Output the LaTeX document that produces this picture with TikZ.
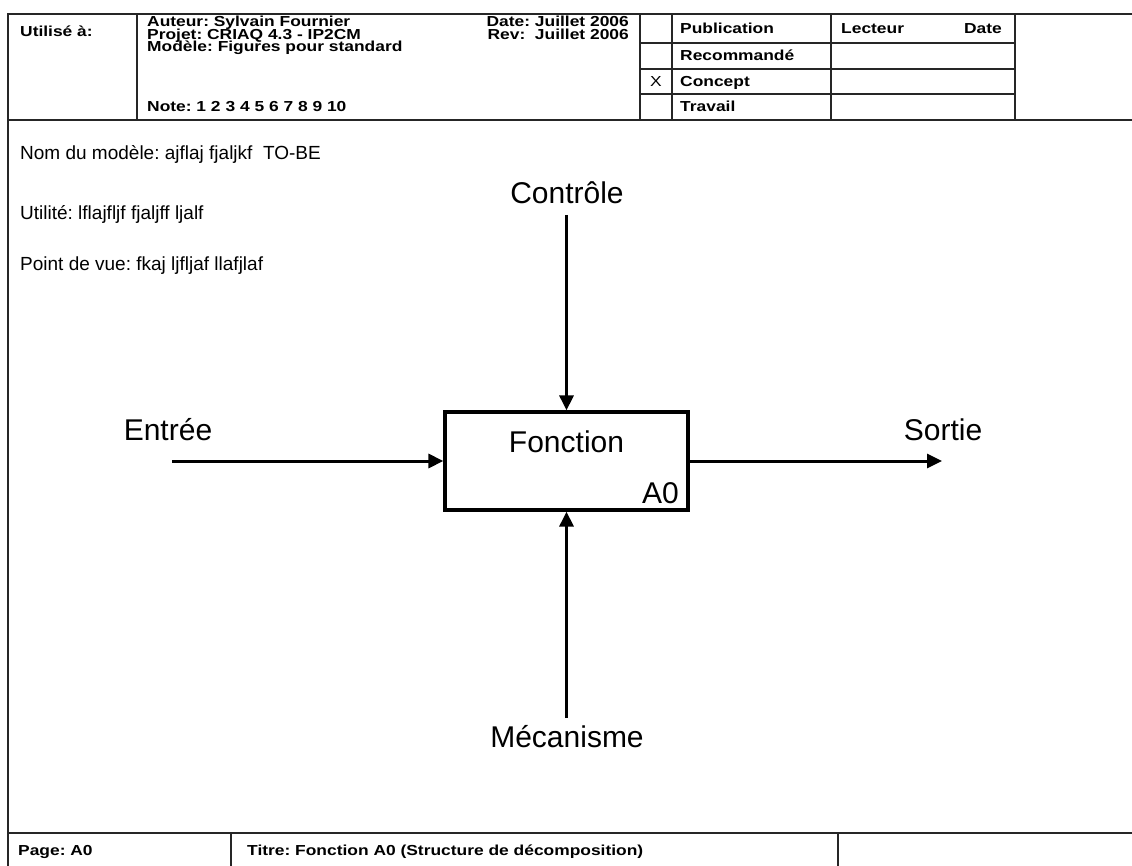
\documentclass[tikz,border=0pt]{standalone}
\usepackage{fontspec}
\setmainfont{Liberation Sans}
\newfontfamily\hdrfont{Liberation Sans}[FakeStretch=1.2]
\usetikzlibrary{arrows.meta}
\frenchspacing
\begin{document}
\begin{tikzpicture}[x=1pt,y=-1pt,
  rule/.style={line width=1.5pt, draw=black!85},
  hdr/.style={font=\hdrfont\fontsize{14.5}{15}\selectfont\bfseries, inner sep=0pt, anchor=base west},
  hdrr/.style={hdr, anchor=base east},
  info/.style={font=\fontsize{19}{22}\selectfont, inner sep=0pt, anchor=base west},
  lbl/.style={font=\fontsize{30}{34}\selectfont, inner sep=0pt},
  flow/.style={line width=3pt, -{Triangle[length=15pt,width=14pt]}},
  fbox/.style={draw, line width=3.2pt, minimum width=243pt, minimum height=98pt, inner sep=0pt}]
\useasboundingbox (0,0) rectangle (1132,866);
\fill[white] (0,0) rectangle (1132,866);

% outer frame and title block rules
\draw[rule] (8,866) -- (8,14) -- (1132,14);
\draw[rule] (8,120) -- (1132,120);
\draw[rule] (137,14) -- (137,120);
\draw[rule] (640,14) -- (640,120);
\draw[rule] (672,14) -- (672,120);
\draw[rule] (831,14) -- (831,120);
\draw[rule] (1015,14) -- (1015,120);
\foreach \yy in {43,69,94} \draw[rule] (640,\yy) -- (1015,\yy);

% footer rules
\draw[rule] (8,833) -- (1132,833);
\draw[rule] (231,833) -- (231,866);
\draw[rule] (838,833) -- (838,866);

% title block text
\node[hdr] (used) at (20,37) {Utilisé à:};
\node[hdr] (author) at (147,27) {Auteur: Sylvain Fournier};
\node[hdr] (project) at (147,39.5) {Projet: CRIAQ 4.3 - IP2CM};
\node[hdr] (model) at (147,52) {Modèle: Figures pour standard};
\node[hdr] (note) at (147,112) {Note: 1 2 3 4 5 6 7 8 9 10};
\node[hdrr] (date) at (629,27) {Date: Juillet 2006};
\node[hdrr] (rev) at (629,39.5) {Rev:\ \ Juillet 2006};
\node[hdr] (pub) at (680,34) {Publication};
\node[hdr] (rec) at (680,61) {Recommandé};
\node[hdr] (con) at (680,87) {Concept};
\node[hdr] (wrk) at (680,112) {Travail};
\node[font=\hdrfont\fontsize{14.5}{15}\selectfont, inner sep=0pt, anchor=base] (mark) at (656,87) {X};
\node[hdr] (reader) at (841,34) {Lecteur};
\node[hdrr] (rdate) at (1002,34) {Date};
\node[hdr] (page) at (18,855) {Page: A0};
\node[hdr] (title) at (247,855) {Titre: Fonction A0 (Structure de décomposition)};

% model description
\node[info] (name) at (20,160) {Nom du modèle: ajflaj fjaljkf\ \ TO-BE};
\node[info] (purpose) at (20,220) {Utilité: lflajfljf fjaljff ljalf};
\node[info] (view) at (20,271) {Point de vue: fkaj ljfljaf llafjlaf};

% activity box
\node[fbox] (fn) at (566.5,461) {};
\node[lbl, anchor=base] (fnname) at (566.5,452) {Fonction};
\node[lbl, anchor=base east] (fnid) at (679,503) {A0};

% ICOM labels and arrows
\node[lbl] (in) at (168,430) {Entrée};
\node[lbl] (out) at (943,430) {Sortie};
\node[lbl] (ctl) at (567,193) {Contrôle};
\node[lbl] (mech) at (567,737) {Mécanisme};
\coordinate (inS) at (172,461);
\coordinate (outE) at (942,461);
\coordinate (ctlS) at (566.5,215);
\coordinate (mechS) at (566.5,718);
\draw[flow] (inS) -- (fn.west);
\draw[flow] (fn.east) -- (outE);
\draw[flow] (ctlS) -- (fn.north);
\draw[flow] (mechS) -- (fn.south);
\end{tikzpicture}
\end{document}
